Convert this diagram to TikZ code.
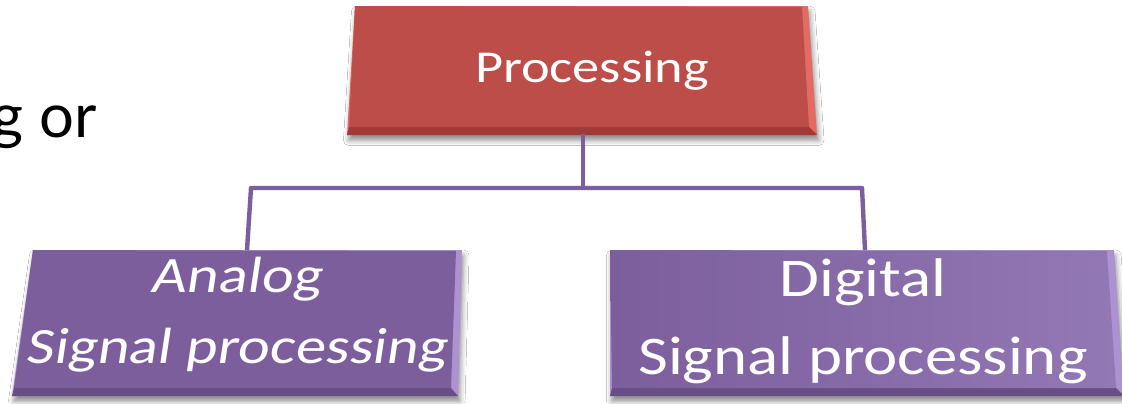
\documentclass[tikz,border=0pt]{standalone}
\usepackage{fontspec}
\setmainfont{Carlito}
\newfontfamily\wideface{Carlito}[FakeStretch=1.19]
\newfontfamily\slantface{Carlito}[FakeStretch=1.19, FakeSlant=0.15]
\newfontfamily\slideface{Lato}
\usetikzlibrary{shadows.blur}
\definecolor{procred}{RGB}{188,77,73}
\definecolor{procredlt}{RGB}{226,108,100}
\definecolor{procreddk}{RGB}{160,58,55}
\definecolor{sigpurple}{RGB}{124,94,156}
\definecolor{sigpurplert}{RGB}{146,120,180}
\definecolor{sigpurplelt}{RGB}{172,146,208}
\definecolor{sigpurpledk}{RGB}{104,78,134}
\definecolor{linkpurple}{RGB}{122,94,160}
\tikzset{
  boxshadow/.style = {blur shadow={shadow xshift=1pt, shadow yshift=-3pt,
                      shadow blur radius=3pt, shadow opacity=45}},
  boxtext/.style   = {text=white, align=center, inner sep=0pt, anchor=base},
  link/.style      = {draw=linkpurple, line width=2.5pt, line join=round},
}

\begin{document}
\begin{tikzpicture}[x=0.02cm, y=-0.02cm]
  \clip (0,0) rectangle (1122,403);
  \fill[white] (0,0) rectangle (1122,403);

  % top box: Processing
  \fill[procredlt, boxshadow] (355,6) -- (808,6) -- (817,135) -- (347,135) -- cycle;
  \fill[procreddk] (349,127) -- (809,127) -- (817,135) -- (347,135) -- cycle;
  \fill[procred] (355,6) -- (802,7) -- (809,127) -- (349,127) -- cycle;

  % lower boxes
  \fill[sigpurplelt, boxshadow] (33,250) -- (462,250) -- (458,396) -- (12,396) -- cycle;
  \fill[sigpurpledk] (14,388) -- (451,388) -- (458,396) -- (12,396) -- cycle;
  \fill[sigpurple] (33,250) -- (456,251) -- (451,388) -- (14,388) -- cycle;

  \fill[sigpurplelt, boxshadow] (610,250) -- (1114,250) -- (1124,396) -- (610,396) -- cycle;
  \fill[sigpurpledk] (612,388) -- (1116,388) -- (1124,396) -- (610,396) -- cycle;
  \shade[left color=sigpurple, right color=sigpurplert]
    (610,250) -- (1107,251) -- (1116,388) -- (612,388) -- cycle;

  \node[boxtext, font=\wideface\fontsize{26}{30}\selectfont] (proc) at (592,82) {Processing};
  \node[boxtext, font=\slantface\fontsize{29}{40}\selectfont] (ana) at (236,363) {Analog\\Signal processing};
  \node[boxtext, font=\wideface\fontsize{31}{44}\selectfont] (dig) at (863,374) {Digital\\Signal processing};
  \node[anchor=base east, inner sep=0pt, font=\slideface\fontsize{35}{40}\selectfont] (gor) at (97,137) {g or};

  \coordinate (proc-s) at (583,134);
  \coordinate (hub)    at (583,188);
  \coordinate (lknee)  at (251,188);
  \coordinate (rknee)  at (862,188);
  \coordinate (ana-n)  at (247,250);
  \coordinate (dig-n)  at (865,250);

  \draw[link] (proc-s) -- (hub);
  \draw[link] (ana-n) -- (lknee) -- (rknee) -- (dig-n);
\end{tikzpicture}
\end{document}
